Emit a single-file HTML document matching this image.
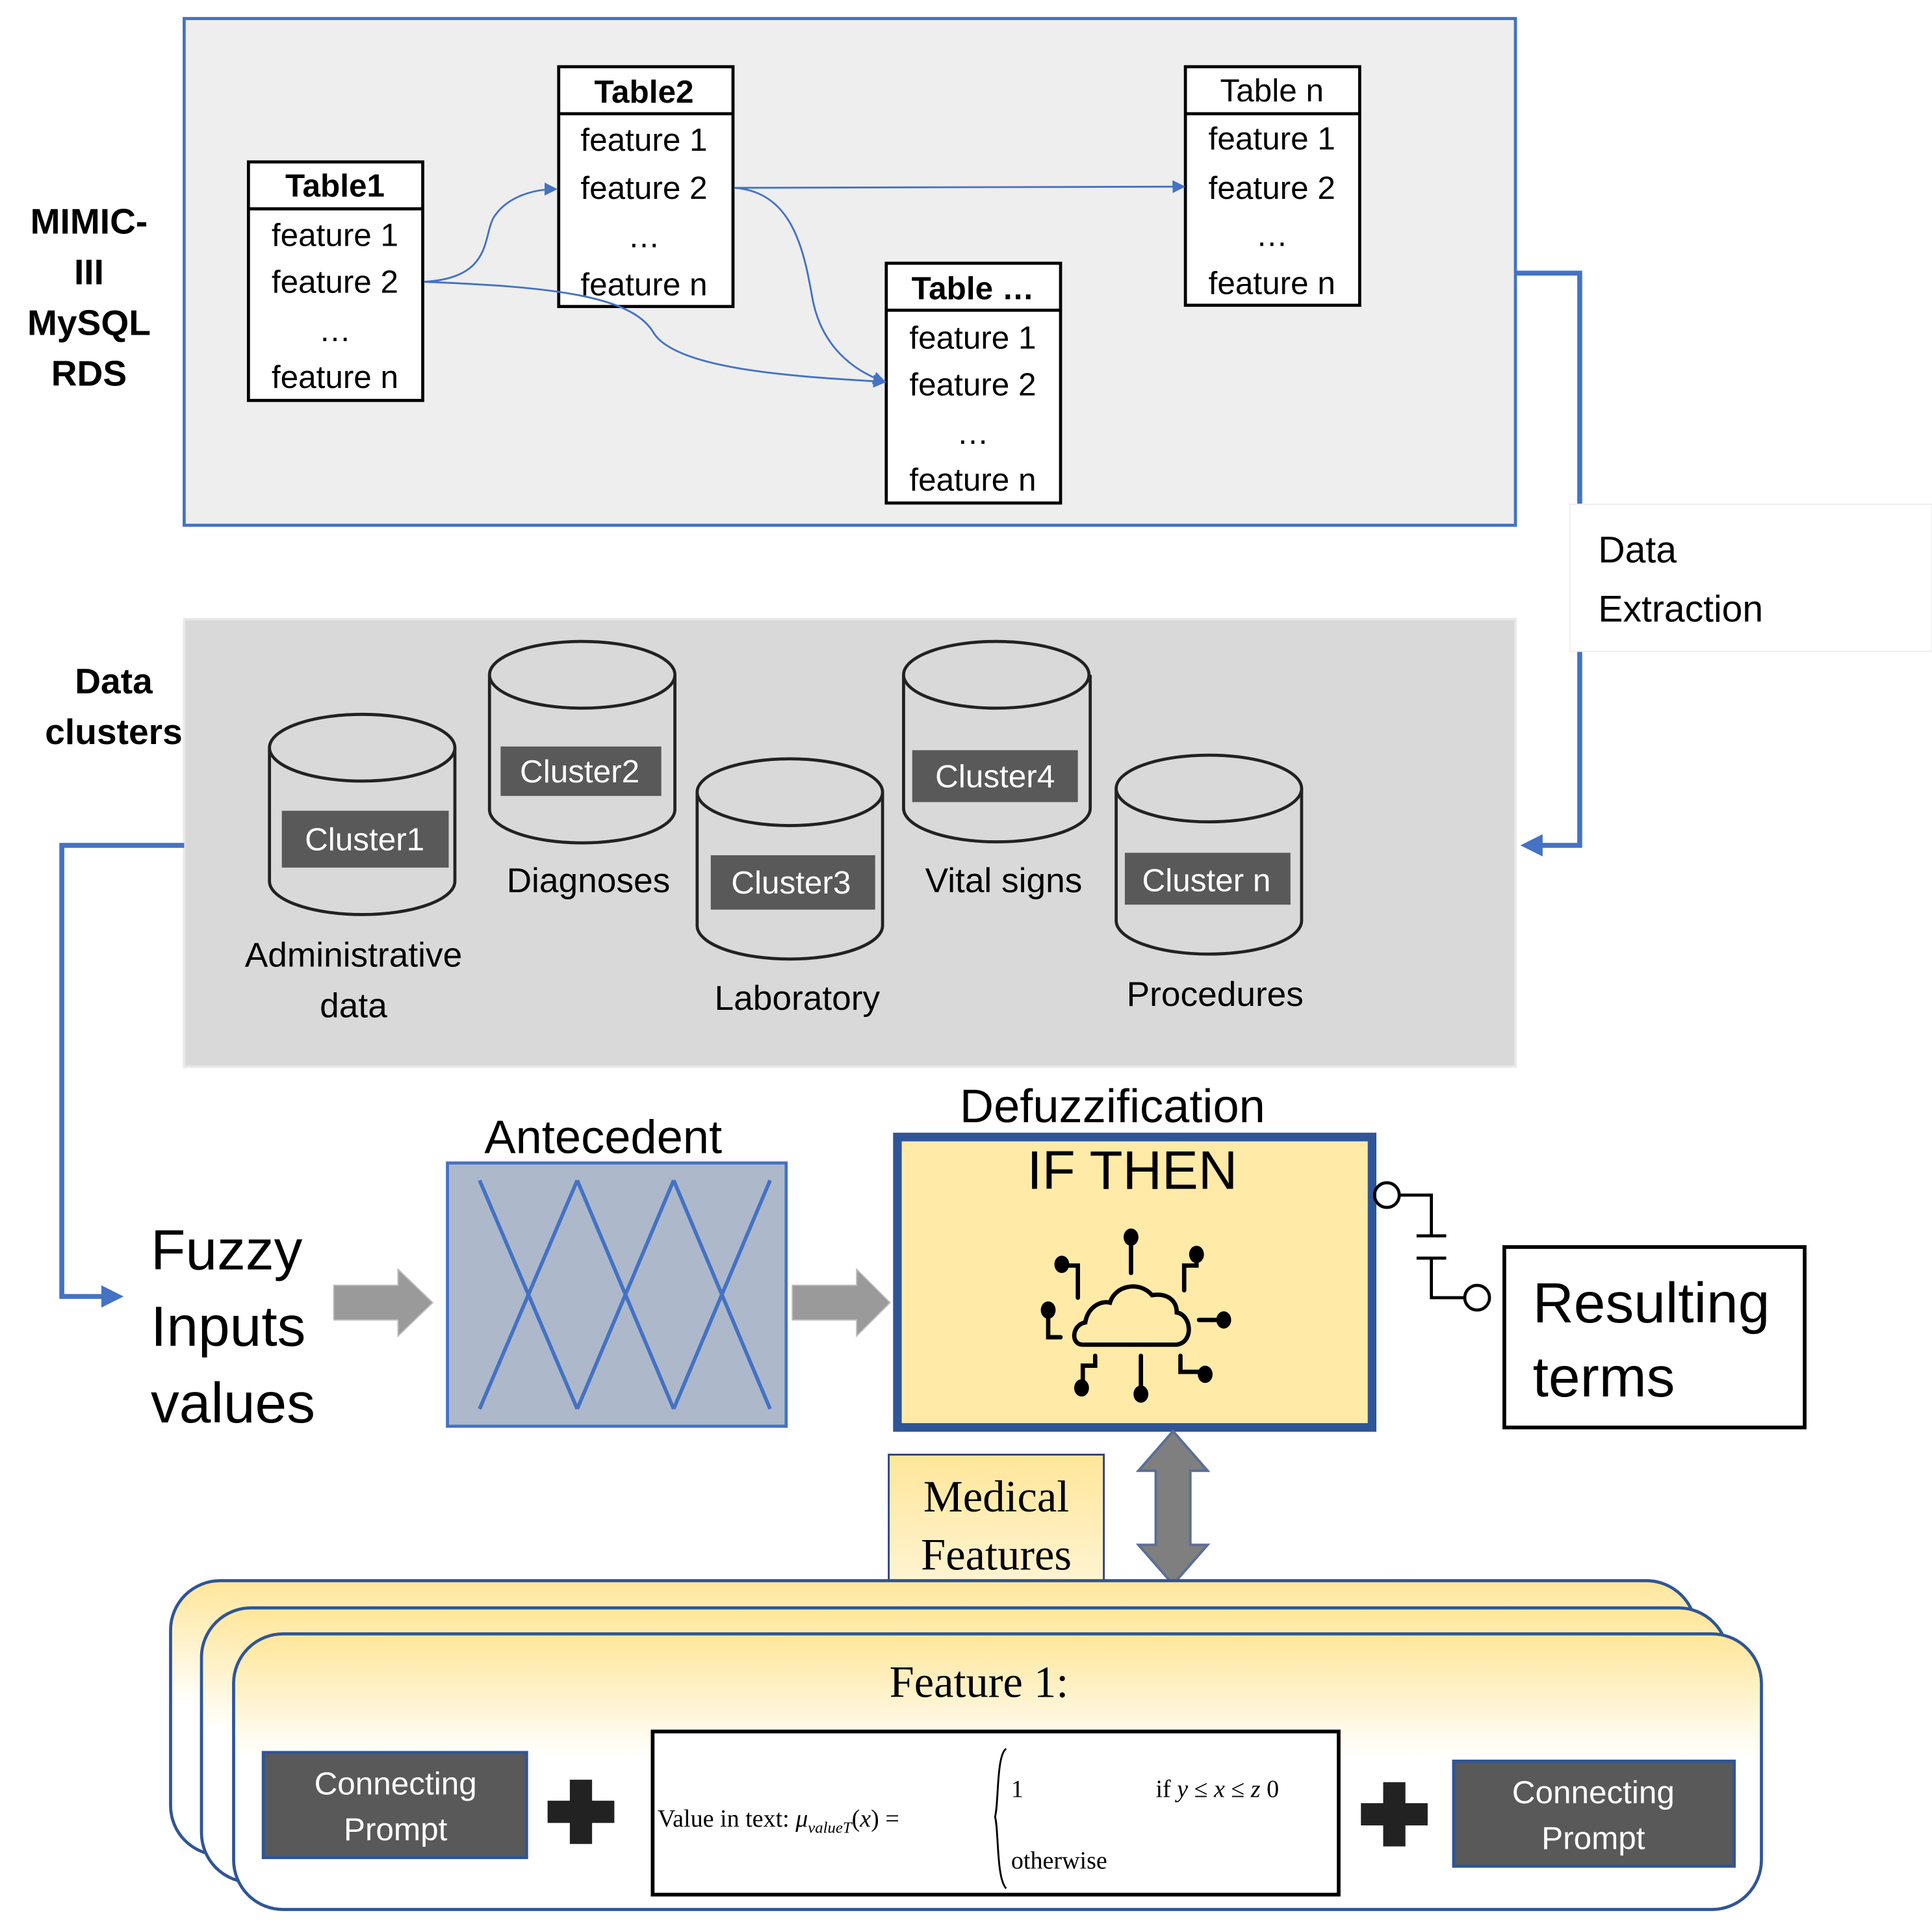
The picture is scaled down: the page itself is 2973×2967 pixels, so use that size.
<!DOCTYPE html>
<html><head><meta charset="utf-8"><style>
html,body{margin:0;padding:0;background:#fff;}
svg{display:block;}
.s{font-family:"Liberation Sans","DejaVu Sans",sans-serif;}
.r{font-family:"Liberation Serif",serif;}
</style></head><body>
<svg width="2973" height="2967" viewBox="0 0 1563 1560" preserveAspectRatio="none" xmlns="http://www.w3.org/2000/svg">
<defs>
<marker id="ab" viewBox="0 0 10 10" refX="9" refY="5" markerWidth="7" markerHeight="7" orient="auto"><path d="M0,0L10,5L0,10z" fill="#4472c4"/></marker>
<linearGradient id="cg" x1="0" y1="0" x2="0" y2="1"><stop offset="0" stop-color="#ffe699"/><stop offset="0.45" stop-color="#fff"/><stop offset="1" stop-color="#fff"/></linearGradient>
<linearGradient id="mg" x1="0" y1="0" x2="0" y2="1"><stop offset="0" stop-color="#ffe699"/><stop offset="1" stop-color="#fff5d6"/></linearGradient>
</defs>
<rect x="0" y="0" width="1563" height="1560" fill="#fff"/>
<!-- top panel -->
<rect x="149" y="15" width="1077" height="410" fill="#eeeeee" stroke="#4472c4" stroke-width="2.5"/>
<g class="s" font-size="29" font-weight="bold" text-anchor="middle" fill="#000">
<text x="72" y="189">MIMIC-</text><text x="72" y="230">III</text><text x="72" y="271">MySQL</text><text x="72" y="312">RDS</text>
<text x="92" y="561">Data</text><text x="92" y="602">clusters</text>
</g>
<g fill="#fff" stroke="#000" stroke-width="2.5">
<rect x="201" y="131" width="141" height="193"/><line x1="201" y1="169" x2="342" y2="169"/>
<rect x="452" y="54" width="141" height="194"/><line x1="452" y1="92" x2="593" y2="92"/>
<rect x="959" y="54" width="141" height="193"/><line x1="959" y1="92" x2="1100" y2="92"/>
<rect x="717" y="213" width="141" height="194"/><line x1="717" y1="251" x2="858" y2="251"/>
</g>
<g class="s" font-size="26" text-anchor="middle" fill="#000">
<text x="271" y="159" font-weight="bold">Table1</text>
<text x="271" y="199">feature 1</text><text x="271" y="237">feature 2</text><text x="271" y="276">…</text><text x="271" y="314">feature n</text>
<text x="521" y="83" font-weight="bold">Table2</text>
<text x="521" y="122">feature 1</text><text x="521" y="161">feature 2</text><text x="521" y="200">…</text><text x="521" y="239">feature n</text>
<text x="1029" y="82">Table n</text>
<text x="1029" y="121">feature 1</text><text x="1029" y="161">feature 2</text><text x="1029" y="199">…</text><text x="1029" y="238">feature n</text>
<text x="787" y="242" font-weight="bold">Table …</text>
<text x="787" y="282">feature 1</text><text x="787" y="320">feature 2</text><text x="787" y="359">…</text><text x="787" y="397">feature n</text>
</g>
<g fill="none" stroke="#4472c4" stroke-width="1.5">
<path d="M343,228 C400,225 390,190 400,175 C410,160 430,153 450,153" marker-end="url(#ab)"/>
<path d="M343,228 C450,232 510,240 528,268 C545,300 650,305 716,309" marker-end="url(#ab)"/>
<path d="M594,152 C640,155 650,200 657,240 C664,280 690,300 716,309" marker-end="url(#ab)"/>
<path d="M594,152 L958,151" marker-end="url(#ab)"/>
</g>
<!-- right connector -->
<path d="M1226,221 H1278 V408" fill="none" stroke="#4472c4" stroke-width="4"/>
<path d="M1278,527 V684 H1240" fill="none" stroke="#4472c4" stroke-width="4"/>
<path d="M1230,684 L1248,675 L1248,693z" fill="#4472c4"/>
<rect x="1270" y="408" width="293" height="119" fill="#fff" stroke="#eee" stroke-width="1"/>
<g class="s" font-size="30" fill="#000"><text x="1293" y="455">Data</text><text x="1293" y="503">Extraction</text></g>
<!-- clusters panel -->
<rect x="149" y="501" width="1077" height="362" fill="#d9d9d9" stroke="#e8e8e8" stroke-width="2"/>
<g fill="#d9d9d9" stroke="#222" stroke-width="2.5">
<path d="M218,605 V713 A75,27 0 0 0 368,713 V605"/><ellipse cx="293" cy="605" rx="75" ry="27"/>
<path d="M396,546 V655 A75,27 0 0 0 546,655 V546"/><ellipse cx="471" cy="546" rx="75" ry="27"/>
<path d="M564,641 V749 A75,27 0 0 0 714,749 V641"/><ellipse cx="639" cy="641" rx="75" ry="27"/>
<path d="M731,546 V654 A75,27 0 0 0 882,654 V546"/><ellipse cx="806" cy="546" rx="75" ry="27"/>
<path d="M903,638 V745 A75,27 0 0 0 1053,745 V638"/><ellipse cx="978" cy="638" rx="75" ry="27"/>
</g>
<g fill="#595959">
<rect x="228" y="656" width="135" height="46"/>
<rect x="405" y="604" width="130" height="40"/>
<rect x="575" y="692" width="133" height="44"/>
<rect x="738" y="607" width="134" height="42"/>
<rect x="910" y="690" width="134" height="42"/>
</g>
<g class="s" font-size="26" text-anchor="middle" fill="#fff">
<text x="295" y="688">Cluster1</text><text x="469" y="633">Cluster2</text><text x="640" y="723">Cluster3</text><text x="805" y="637">Cluster4</text><text x="976" y="721">Cluster n</text>
</g>
<g class="s" font-size="28" text-anchor="middle" fill="#000">
<text x="286" y="782">Administrative</text><text x="286" y="823">data</text>
<text x="476" y="722">Diagnoses</text><text x="645" y="817">Laboratory</text>
<text x="812" y="722">Vital signs</text><text x="983" y="814">Procedures</text>
</g>
<!-- left connector -->
<path d="M149,684 H50 V1049 H88" fill="none" stroke="#4472c4" stroke-width="4"/>
<path d="M100,1049 L82,1040 L82,1058z" fill="#4472c4"/>
<g class="s" font-size="46" fill="#000"><text x="122" y="1027">Fuzzy</text><text x="122" y="1089">Inputs</text><text x="122" y="1151">values</text></g>
<!-- gray arrows -->
<path d="M270,1040 H322 V1027 L350,1054 L322,1081 V1068 H270z" fill="#9a9a9a" stroke="#bbb" stroke-width="1"/>
<path d="M641,1040 H693 V1027 L720,1054 L693,1081 V1068 H641z" fill="#9a9a9a" stroke="#bbb" stroke-width="1"/>
<!-- antecedent -->
<text class="s" x="488" y="933" font-size="38" text-anchor="middle">Antecedent</text>
<rect x="362" y="941" width="274" height="213" fill="#adb9ca" stroke="#4472c4" stroke-width="2.5"/>
<g stroke="#4472c4" stroke-width="3">
<line x1="388" y1="955" x2="467" y2="1140"/><line x1="467" y1="955" x2="388" y2="1140"/>
<line x1="467" y1="955" x2="545" y2="1140"/><line x1="545" y1="955" x2="467" y2="1140"/>
<line x1="545" y1="955" x2="623" y2="1140"/><line x1="623" y1="955" x2="545" y2="1140"/>
</g>
<!-- if then -->
<text class="s" x="900" y="908" font-size="38" text-anchor="middle">Defuzzification</text>
<rect x="726" y="920" width="384" height="235" fill="#ffeaa8" stroke="#2f5597" stroke-width="7"/>
<text class="s" x="916" y="962" font-size="44" text-anchor="middle">IF  THEN</text>
<g fill="none" stroke="#000" stroke-width="3.5" stroke-linecap="round">
<path d="M876,1088 C866,1088 867,1072 878,1070 C880,1058 890,1052 898,1054 C902,1040 922,1036 932,1048 C944,1046 952,1052 952,1062 C964,1064 966,1086 952,1088 Z"/>
<line x1="915" y1="1002" x2="915" y2="1030"/>
<path d="M860,1024 H872 V1050"/>
<path d="M968,1017 V1024 H958 V1044"/>
<path d="M848,1060 V1082 H858"/>
<path d="M970,1068 H988"/>
<path d="M886,1097 V1105 H876 V1120"/>
<path d="M923,1097 V1128"/>
<path d="M955,1097 V1110 H972"/>
</g>
<g fill="#000">
<ellipse cx="915" cy="1001" rx="6" ry="7"/><ellipse cx="859" cy="1023" rx="6" ry="7"/><ellipse cx="968" cy="1015" rx="6" ry="7"/>
<ellipse cx="848" cy="1060" rx="6" ry="7"/><ellipse cx="990" cy="1068" rx="6" ry="7"/>
<ellipse cx="875" cy="1123" rx="6" ry="7"/><ellipse cx="923" cy="1128" rx="6" ry="7"/><ellipse cx="975" cy="1112" rx="6" ry="7"/>
</g>
<!-- connector to results -->
<g fill="none" stroke="#000" stroke-width="2.5">
<circle cx="1122" cy="967" r="10"/>
<path d="M1132,967 H1158 V1000"/><line x1="1146" y1="1000" x2="1170" y2="1000"/>
<line x1="1146" y1="1018" x2="1170" y2="1018"/><path d="M1158,1018 V1050 H1185"/>
<circle cx="1195" cy="1050" r="10"/>
</g>
<rect x="1217" y="1009" width="243" height="146" fill="#fff" stroke="#000" stroke-width="3"/>
<g class="s" font-size="46" fill="#000"><text x="1240" y="1070">Resulting</text><text x="1240" y="1130">terms</text></g>
<!-- medical features -->
<rect x="719" y="1177" width="174" height="110" fill="url(#mg)" stroke="#2f3f7f" stroke-width="1.5"/>
<g class="r" font-size="36" text-anchor="middle" fill="#000"><text x="806" y="1223">Medical</text><text x="806" y="1270">Features</text></g>
<path d="M949,1158 L977,1190 H963 V1250 H977 L949,1282 L921,1250 H935 V1190 H921z" fill="#7f7f7f" stroke="#5a6e96" stroke-width="2"/>
<!-- stacked cards -->
<rect x="138" y="1279" width="1234" height="222" rx="40" fill="url(#cg)" stroke="#2f5597" stroke-width="2.5"/>
<rect x="163" y="1301" width="1235" height="222" rx="40" fill="url(#cg)" stroke="#2f5597" stroke-width="2.5"/>
<rect x="189" y="1322" width="1236" height="223" rx="40" fill="url(#cg)" stroke="#2f5597" stroke-width="2.5"/>
<text class="r" x="792" y="1373" font-size="36" text-anchor="middle">Feature 1:</text>
<rect x="213" y="1418" width="213" height="85" fill="#595959" stroke="#2f5597" stroke-width="2.5"/>
<g class="s" font-size="26" text-anchor="middle" fill="#fff"><text x="320" y="1452">Connecting</text><text x="320" y="1489">Prompt</text></g>
<rect x="1176" y="1425" width="227" height="85" fill="#595959" stroke="#2f5597" stroke-width="2.5"/>
<g class="s" font-size="26" text-anchor="middle" fill="#fff"><text x="1289" y="1459">Connecting</text><text x="1289" y="1496">Prompt</text></g>
<g fill="#222"><rect x="461" y="1440" width="18" height="52"/><rect x="443" y="1457" width="54" height="18"/>
<rect x="1119" y="1442" width="18" height="52"/><rect x="1101" y="1459" width="54" height="18"/></g>
<rect x="528" y="1401" width="555" height="132" fill="#fff" stroke="#000" stroke-width="3"/>
<g class="r" font-size="20" fill="#000">
<text x="532" y="1478">Value in text: <tspan font-style="italic">μ</tspan><tspan font-size="13" font-style="italic" dy="5">valueT</tspan><tspan dy="-5">(<tspan font-style="italic">x</tspan>) =</tspan></text>
<text x="818" y="1454">1</text><text x="935" y="1454">if <tspan font-style="italic">y</tspan> ≤ <tspan font-style="italic">x</tspan> ≤ <tspan font-style="italic">z</tspan> 0</text>
<text x="818" y="1512">otherwise</text>
</g>
<path d="M814,1415 C806,1420 808,1460 805,1470 C808,1480 806,1520 814,1528" fill="none" stroke="#000" stroke-width="1.5"/>
</svg>
</body></html>
